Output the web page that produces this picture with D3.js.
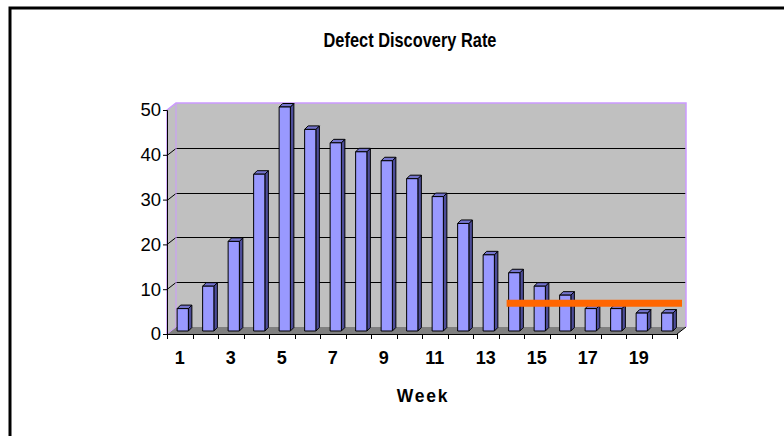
<!DOCTYPE html>
<html>
<head>
<meta charset="utf-8">
<script src="https://cdn.jsdelivr.net/npm/d3@7"></script>
<style>
  body { margin: 0; background: #fff; }
  svg { display: block; font-family: Arial, "Liberation Sans", sans-serif; }
</style>
</head>
<body>
<script>
// chart data
var weeks = d3.range(1, 21);
var defects = [5, 10, 20, 35, 50, 45, 42, 40, 38, 34, 30, 24, 17, 13, 10, 8, 5, 5, 4, 4];
var yTicks = [0, 10, 20, 30, 40, 50];
var xLabels = [1, 3, 5, 7, 9, 11, 13, 15, 17, 19];
var targetLevel = 6.2;
var targetFrom = 14;

const W = 784, H = 436;
// front plane of the 3d plot
const x0 = 167, x1 = 677, yBase = 334, yTop = 110;
const depthX = 9, depthY = -7;   // back wall offset
const barDX = 3, barDY = -3;     // bars sit a bit into the depth
const barSide = 3.5;

const svg = d3.select("body").append("svg")
  .attr("width", W)
  .attr("height", H);

// outer frame (runs off the right / bottom edge)
svg.append("rect")
  .attr("x", 10).attr("y", 8)
  .attr("width", 820).attr("height", 460)
  .attr("fill", "#fff")
  .attr("stroke", "#000")
  .attr("stroke-width", 3);

// title, a bit condensed like the original
svg.append("text")
  .attr("transform", "translate(410,47) scale(0.84,1)")
  .attr("text-anchor", "middle")
  .attr("font-size", 19.5)
  .attr("font-weight", "bold")
  .text("Defect Discovery Rate");

const xScale = d3.scaleBand()
  .domain(weeks)
  .range([x0, x1])
  .paddingInner(0.56)
  .paddingOuter(0.28);

const yScale = d3.scaleLinear()
  .domain([0, 50])
  .range([yBase, yTop]);

const line = d3.line();

// side wall
svg.append("path")
  .attr("d", line([[x0, yBase], [x0, yTop], [x0 + depthX, yTop + depthY], [x0 + depthX, yBase + depthY]]) + "Z")
  .attr("fill", "#c0c0c0");

// back wall
svg.append("rect")
  .attr("x", x0 + depthX).attr("y", yTop + depthY)
  .attr("width", x1 - x0).attr("height", yBase - yTop)
  .attr("fill", "#c0c0c0");

// floor
svg.append("path")
  .attr("d", line([[x0, yBase], [x1, yBase], [x1 + depthX, yBase + depthY], [x0 + depthX, yBase + depthY]]) + "Z")
  .attr("fill", "#808080");

// gridlines
var grid = svg.append("g").attr("stroke", "#000").attr("stroke-width", 1).attr("fill", "none");
yTicks.filter(d => d > 0 && d < 50).forEach(function (t) {
  var y = Math.round(yScale(t)) + 0.5;
  grid.append("path")
    .attr("d", line([[x0, y], [x0 + depthX, y + depthY], [x1 + depthX, y + depthY]]));
});

// wall outline (lilac)
svg.append("path")
  .attr("d", line([[x0, yBase], [x0, yTop], [x0 + depthX, yTop + depthY], [x1 + depthX, yTop + depthY], [x1 + depthX, yBase + depthY]]))
  .attr("fill", "none")
  .attr("stroke", "#cc99ff")
  .attr("stroke-width", 1.5);
svg.append("path")
  .attr("d", line([[x0, yBase], [x0 + depthX, yBase + depthY], [x0 + depthX, yTop + depthY]]))
  .attr("fill", "none")
  .attr("stroke", "#cc99ff")
  .attr("stroke-width", 1);
// floor front-right edge
svg.append("path")
  .attr("d", line([[x1, yBase], [x1 + depthX, yBase + depthY]]))
  .attr("fill", "none")
  .attr("stroke", "#000")
  .attr("stroke-width", 1);

// bars
var bars = svg.append("g").attr("stroke", "#000").attr("stroke-width", 1).attr("stroke-linejoin", "round");
defects.forEach(function (v, i) {
  var bx = xScale(weeks[i]) + barDX;
  var bw = xScale.bandwidth();
  var by = yScale(v) + barDY;
  var bb = yBase + barDY;
  // side
  bars.append("path")
    .attr("d", line([[bx + bw, bb], [bx + bw, by], [bx + bw + barSide, by - barSide], [bx + bw + barSide, bb - barSide]]) + "Z")
    .attr("fill", "#4d4d99");
  // top
  bars.append("path")
    .attr("d", line([[bx, by], [bx + barSide, by - barSide], [bx + bw + barSide, by - barSide], [bx + bw, by]]) + "Z")
    .attr("fill", "#7373cc");
  // front
  bars.append("rect")
    .attr("x", bx).attr("y", by)
    .attr("width", bw).attr("height", bb - by)
    .attr("fill", "#9999ff");
});

// target line
var tStart = xScale(targetFrom) + barDX - 2;
var tEnd = x1 + barDX + 2;
svg.append("line")
  .attr("x1", tStart).attr("x2", tEnd)
  .attr("y1", yScale(targetLevel) + barDY)
  .attr("y2", yScale(targetLevel) + barDY)
  .attr("stroke", "#ff6600")
  .attr("stroke-width", 7);

// y axis
const yAxis = d3.axisLeft(yScale).tickValues(yTicks).tickSize(4).tickPadding(2);
const gy = svg.append("g")
  .attr("transform", "translate(" + x0 + ",0)")
  .call(yAxis);
gy.select(".domain").attr("stroke", "#000");
gy.selectAll("text")
  .attr("font-size", 18.5)
  .attr("font-family", "Arial, 'Liberation Sans', sans-serif")
  .attr("fill", "#000");

// x axis
const xAxis = d3.axisBottom(xScale)
  .tickValues(xLabels)
  .tickSize(0)
  .tickPadding(17);
const gx = svg.append("g")
  .attr("transform", "translate(0," + yBase + ")")
  .call(xAxis);
gx.select(".domain").remove();
gx.selectAll("text")
  .attr("font-size", 18)
  .attr("font-weight", "bold")
  .attr("font-family", "Arial, 'Liberation Sans', sans-serif")
  .attr("fill", "#000");

svg.append("line")
  .attr("x1", x0).attr("x2", x1)
  .attr("y1", yBase + 0.5).attr("y2", yBase + 0.5)
  .attr("stroke", "#000");
svg.append("g")
  .selectAll("line")
  .data(weeks.concat([21]))
  .join("line")
  .attr("x1", (d, i) => Math.round(x0 + i * xScale.step()) + 0.5)
  .attr("x2", (d, i) => Math.round(x0 + i * xScale.step()) + 0.5)
  .attr("y1", yBase)
  .attr("y2", yBase + 5)
  .attr("stroke", "#000");

svg.append("text")
  .attr("x", 423).attr("y", 402)
  .attr("text-anchor", "middle")
  .attr("font-size", 17.5)
  .attr("font-weight", "bold")
  .attr("letter-spacing", 1.8)
  .text("Week");
</script>
</body>
</html>
